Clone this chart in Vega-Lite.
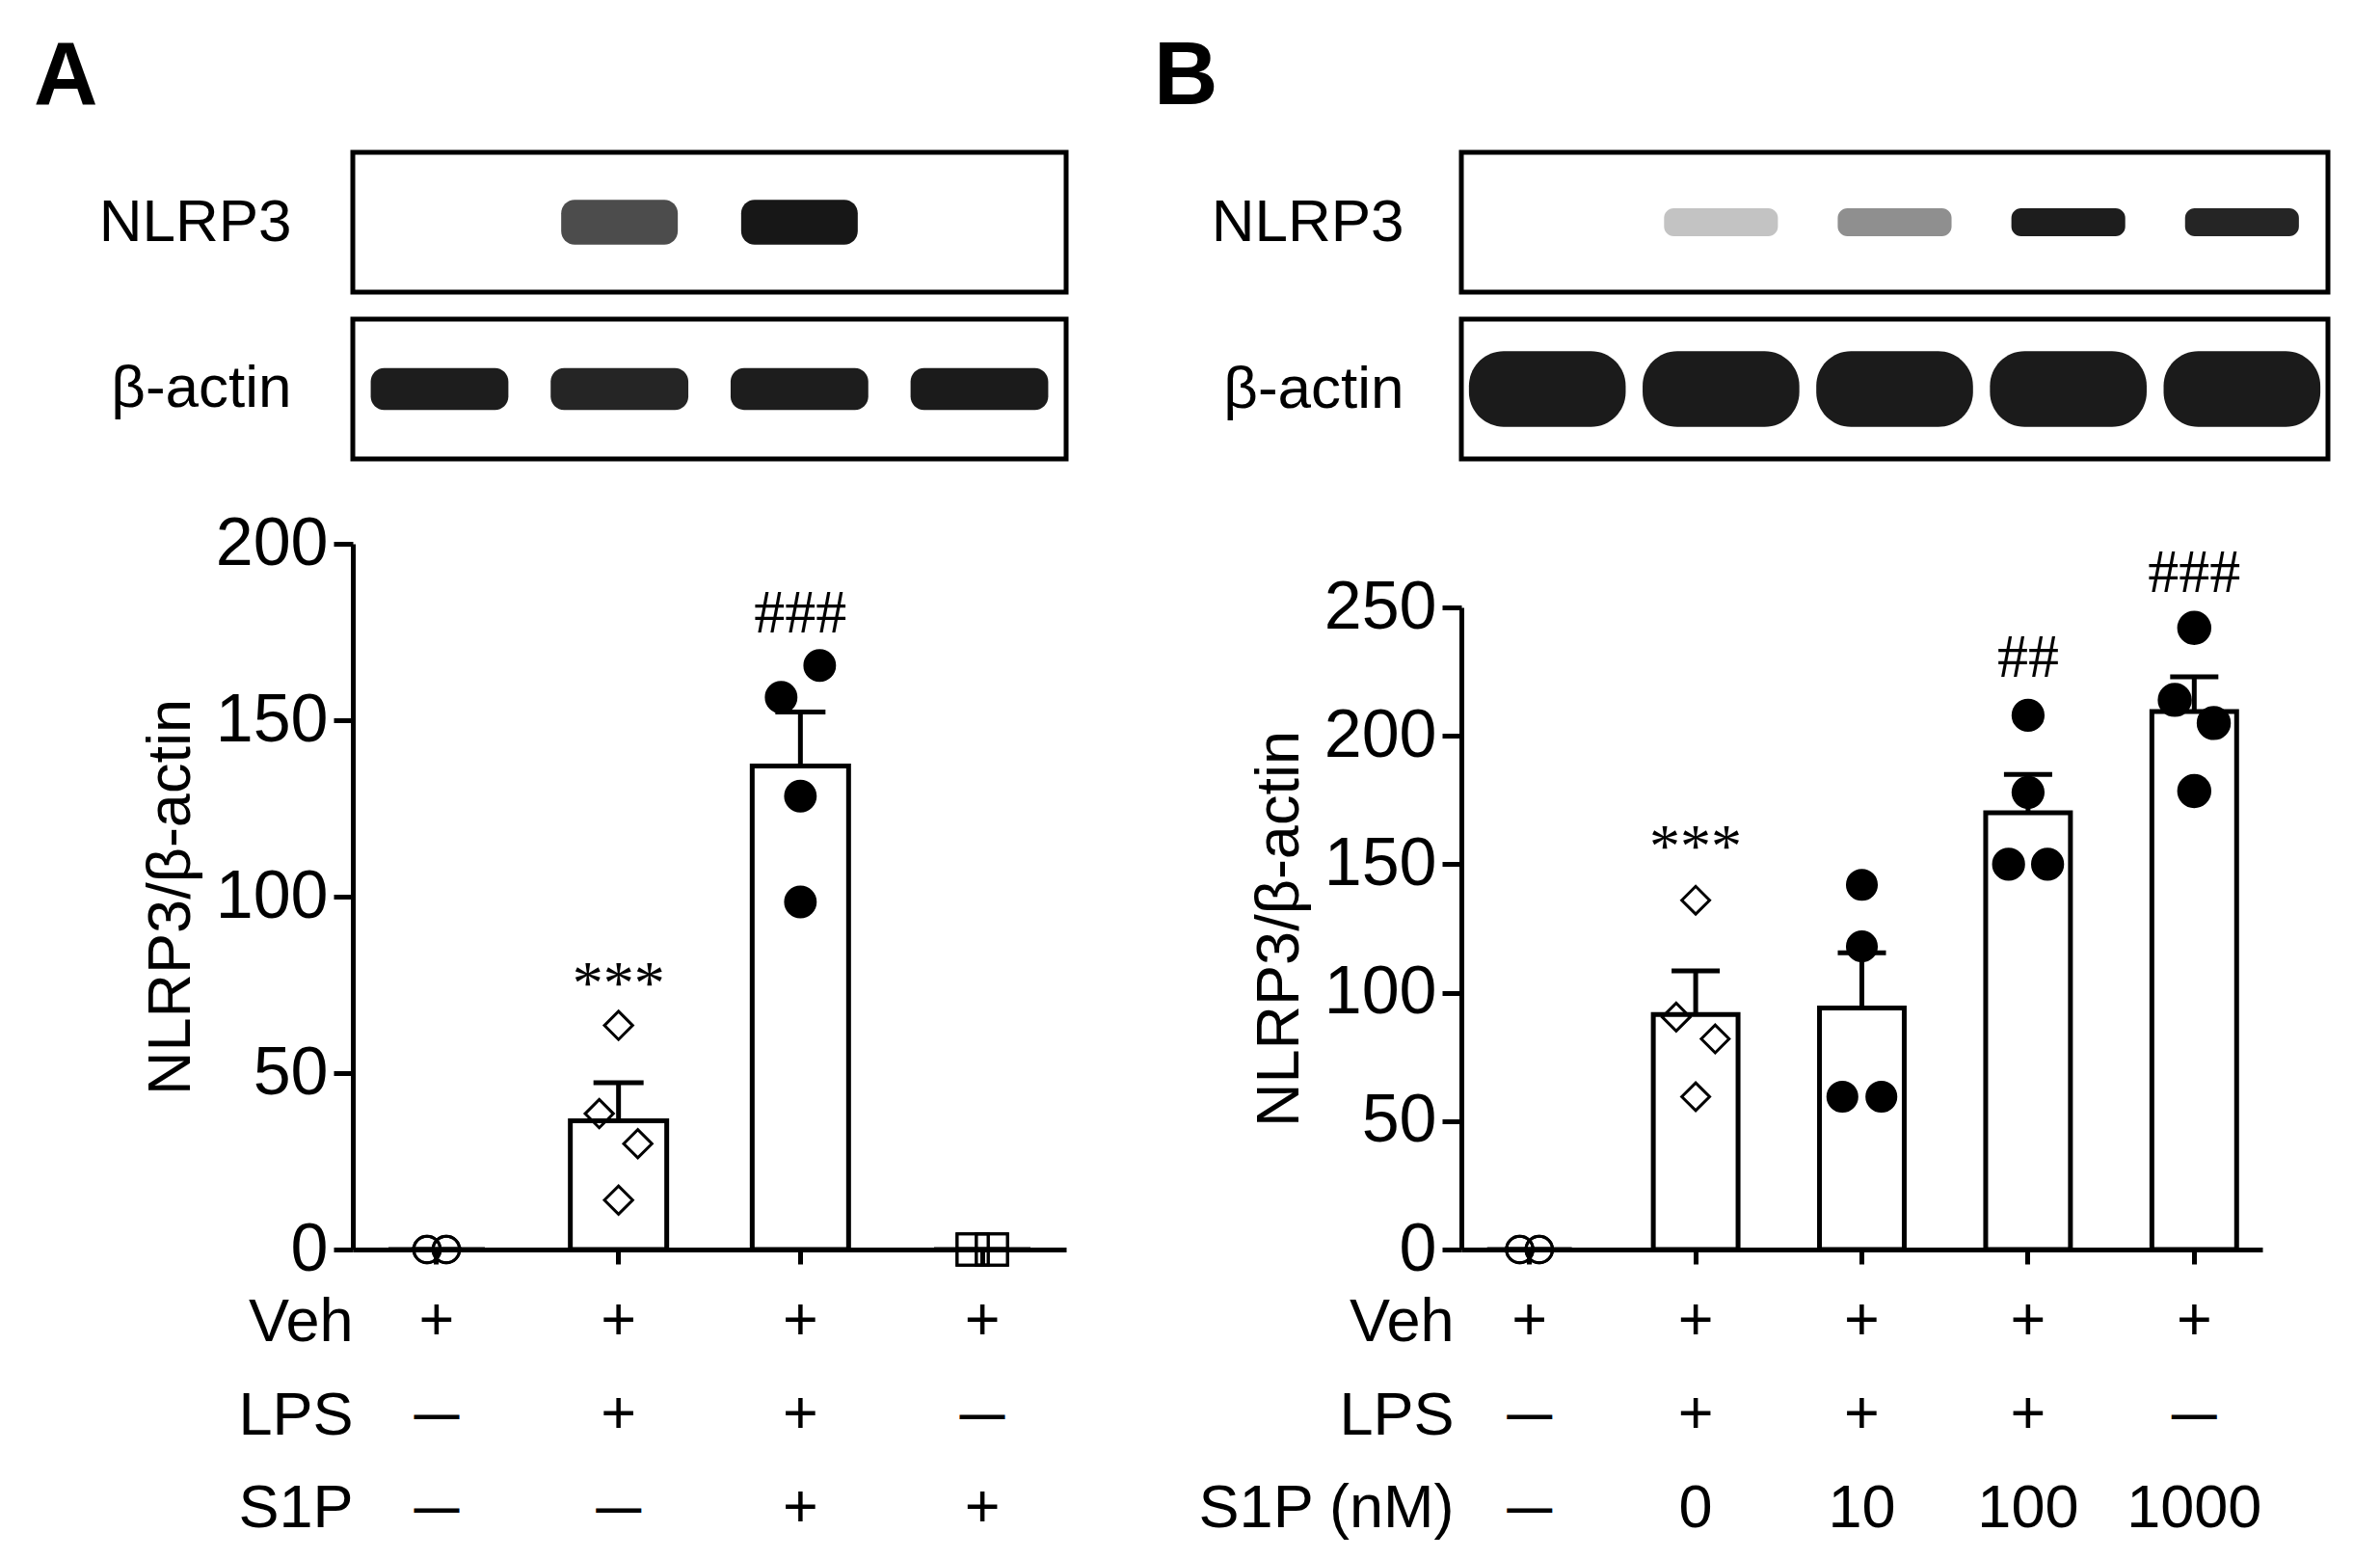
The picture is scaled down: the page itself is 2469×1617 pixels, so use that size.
{
  "$schema": "https://vega.github.io/schema/vega-lite/v6.json",
  "padding": {"left": 35, "top": 33, "right": 0, "bottom": 0},
  "background": "white",
  "datasets": {
    "blotA": [
      {"lane": 1, "protein": "NLRP3", "density": 0},
      {"lane": 2, "protein": "NLRP3", "density": 0.7},
      {"lane": 3, "protein": "NLRP3", "density": 0.95},
      {"lane": 4, "protein": "NLRP3", "density": 0},
      {"lane": 1, "protein": "β-actin", "density": 0.92},
      {"lane": 2, "protein": "β-actin", "density": 0.88},
      {"lane": 3, "protein": "β-actin", "density": 0.92},
      {"lane": 4, "protein": "β-actin", "density": 0.93}
    ],
    "blotB": [
      {"lane": 1, "protein": "NLRP3", "density": 0},
      {"lane": 2, "protein": "NLRP3", "density": 0.22},
      {"lane": 3, "protein": "NLRP3", "density": 0.42},
      {"lane": 4, "protein": "NLRP3", "density": 0.92},
      {"lane": 5, "protein": "NLRP3", "density": 0.88},
      {"lane": 1, "protein": "β-actin", "density": 0.93},
      {"lane": 2, "protein": "β-actin", "density": 0.93},
      {"lane": 3, "protein": "β-actin", "density": 0.93},
      {"lane": 4, "protein": "β-actin", "density": 0.93},
      {"lane": 5, "protein": "β-actin", "density": 0.93}
    ],
    "barsA": [
      {"grp": "Veh", "mean": 0, "upper": 0},
      {"grp": "LPS", "mean": 36.5, "upper": 47.3},
      {"grp": "LPS+S1P", "mean": 137, "upper": 152.3},
      {"grp": "S1P", "mean": 0, "upper": 0}
    ],
    "ptsA": [
      {"grp": "Veh", "v": 0, "pos": "l"},
      {"grp": "Veh", "v": 0, "pos": "l"},
      {"grp": "Veh", "v": 0, "pos": "r"},
      {"grp": "Veh", "v": 0, "pos": "r"},
      {"grp": "LPS", "v": 63.5, "pos": "C"},
      {"grp": "LPS", "v": 38.5, "pos": "L"},
      {"grp": "LPS", "v": 30, "pos": "R"},
      {"grp": "LPS", "v": 14, "pos": "C"},
      {"grp": "LPS+S1P", "v": 165.5, "pos": "R"},
      {"grp": "LPS+S1P", "v": 156.5, "pos": "L"},
      {"grp": "LPS+S1P", "v": 128.5, "pos": "C"},
      {"grp": "LPS+S1P", "v": 98.5, "pos": "C"},
      {"grp": "S1P", "v": 0, "pos": "l"},
      {"grp": "S1P", "v": 0, "pos": "l"},
      {"grp": "S1P", "v": 0, "pos": "r"},
      {"grp": "S1P", "v": 0, "pos": "r"}
    ],
    "sigA": [
      {"grp": "LPS", "y": 75, "label": "***"},
      {"grp": "LPS+S1P", "y": 180, "label": "###"}
    ],
    "tabA": [
      {"grp": "Veh", "row": "Veh", "txt": "+"},
      {"grp": "LPS", "row": "Veh", "txt": "+"},
      {"grp": "LPS+S1P", "row": "Veh", "txt": "+"},
      {"grp": "S1P", "row": "Veh", "txt": "+"},
      {"grp": "Veh", "row": "LPS", "txt": "—"},
      {"grp": "LPS", "row": "LPS", "txt": "+"},
      {"grp": "LPS+S1P", "row": "LPS", "txt": "+"},
      {"grp": "S1P", "row": "LPS", "txt": "—"},
      {"grp": "Veh", "row": "S1P", "txt": "—"},
      {"grp": "LPS", "row": "S1P", "txt": "—"},
      {"grp": "LPS+S1P", "row": "S1P", "txt": "+"},
      {"grp": "S1P", "row": "S1P", "txt": "+"}
    ],
    "barsB": [
      {"grp": "Veh", "mean": 0, "upper": 0},
      {"grp": "LPS", "mean": 91.5, "upper": 108.5},
      {"grp": "LPS+S1P 10", "mean": 94, "upper": 115.5},
      {"grp": "LPS+S1P 100", "mean": 170, "upper": 185},
      {"grp": "S1P 1000", "mean": 209.5, "upper": 223}
    ],
    "ptsB": [
      {"grp": "Veh", "v": 0, "pos": "l"},
      {"grp": "Veh", "v": 0, "pos": "l"},
      {"grp": "Veh", "v": 0, "pos": "r"},
      {"grp": "Veh", "v": 0, "pos": "r"},
      {"grp": "LPS", "v": 136, "pos": "C"},
      {"grp": "LPS", "v": 90.5, "pos": "L"},
      {"grp": "LPS", "v": 82, "pos": "R"},
      {"grp": "LPS", "v": 59.5, "pos": "C"},
      {"grp": "LPS+S1P 10", "v": 142, "pos": "C"},
      {"grp": "LPS+S1P 10", "v": 118, "pos": "C"},
      {"grp": "LPS+S1P 10", "v": 59.5, "pos": "L"},
      {"grp": "LPS+S1P 10", "v": 59.5, "pos": "R"},
      {"grp": "LPS+S1P 100", "v": 208, "pos": "C"},
      {"grp": "LPS+S1P 100", "v": 178, "pos": "C"},
      {"grp": "LPS+S1P 100", "v": 150, "pos": "L"},
      {"grp": "LPS+S1P 100", "v": 150, "pos": "R"},
      {"grp": "S1P 1000", "v": 242, "pos": "C"},
      {"grp": "S1P 1000", "v": 214, "pos": "L"},
      {"grp": "S1P 1000", "v": 205, "pos": "R"},
      {"grp": "S1P 1000", "v": 178.5, "pos": "C"}
    ],
    "sigB": [
      {"grp": "LPS", "y": 156, "label": "***"},
      {"grp": "LPS+S1P 100", "y": 230, "label": "##"},
      {"grp": "S1P 1000", "y": 263, "label": "###"}
    ],
    "tabB": [
      {"grp": "Veh", "row": "Veh", "txt": "+"},
      {"grp": "LPS", "row": "Veh", "txt": "+"},
      {"grp": "LPS+S1P 10", "row": "Veh", "txt": "+"},
      {"grp": "LPS+S1P 100", "row": "Veh", "txt": "+"},
      {"grp": "S1P 1000", "row": "Veh", "txt": "+"},
      {"grp": "Veh", "row": "LPS", "txt": "—"},
      {"grp": "LPS", "row": "LPS", "txt": "+"},
      {"grp": "LPS+S1P 10", "row": "LPS", "txt": "+"},
      {"grp": "LPS+S1P 100", "row": "LPS", "txt": "+"},
      {"grp": "S1P 1000", "row": "LPS", "txt": "—"},
      {"grp": "Veh", "row": "S1P (nM)", "txt": "—"},
      {"grp": "LPS", "row": "S1P (nM)", "txt": "0"},
      {"grp": "LPS+S1P 10", "row": "S1P (nM)", "txt": "10"},
      {"grp": "LPS+S1P 100", "row": "S1P (nM)", "txt": "100"},
      {"grp": "S1P 1000", "row": "S1P (nM)", "txt": "1000"}
    ]
  },
  "spacing": 88,
  "resolve": {"scale": {"x": "independent", "y": "independent", "fill": "independent", "shape": "independent", "size": "independent", "color": "independent"}},
  "hconcat": [
    {
      "spacing": 27,
      "bounds": "flush",
      "resolve": {"scale": {"x": "independent", "y": "independent", "fill": "independent", "shape": "independent", "size": "independent", "color": "independent"}},
      "vconcat": [
        {
          "width": 740,
          "height": 379,
          "title": {"text": "A", "anchor": "start", "frame": "group", "fontSize": 92, "fontWeight": "bold", "font": "Liberation Sans", "dx": -331, "offset": -44, "baseline": "alphabetic", "color": "black"},
          "data": {"name": "blotA"},
          "encoding": {
            "y": {"field": "protein", "type": "nominal", "sort": ["NLRP3", "β-actin"], "scale": {"domain": ["NLRP3", "β-actin"], "paddingInner": 0.1618, "paddingOuter": 0.1763, "align": 0}, "axis": {"title": null, "domain": false, "ticks": false, "labelFontSize": 62, "labelPadding": 64, "labelLimit": 600, "labelColor": "black", "labelFont": "Liberation Sans"}}
          },
          "layer": [
            {"transform": [{"filter": "datum.lane == 1"}], "mark": {"type": "rect", "fill": "white", "stroke": "black", "strokeWidth": 5}},
            {"transform": [{"filter": "datum.protein == 'NLRP3'"}], "mark": {"type": "rect", "width": {"band": 0.72}, "height": {"band": 0.32}, "cornerRadius": 14},
              "encoding": {"x": {"field": "lane", "type": "ordinal", "scale": {"paddingInner": 0.1, "paddingOuter": 0.032}, "axis": null}, "fill": {"field": "density", "type": "quantitative", "scale": {"domain": [0, 1], "range": ["#ffffff", "#0b0b0b"]}, "legend": null}}},
            {"transform": [{"filter": "datum.protein == 'β-actin'"}], "mark": {"type": "rect", "width": {"band": 0.85}, "height": {"band": 0.3}, "cornerRadius": 14},
              "encoding": {"x": {"field": "lane", "type": "ordinal", "scale": {"paddingInner": 0.1, "paddingOuter": 0.032}, "axis": null}, "fill": {"field": "density", "type": "quantitative", "scale": {"domain": [0, 1], "range": ["#ffffff", "#0b0b0b"]}, "legend": null}}}
          ]
        },
        {
          "width": 740,
          "height": 732,
          "encoding": {
            "x": {"field": "grp", "type": "nominal", "sort": null, "scale": {"type": "band", "domain": ["Veh", "LPS", "LPS+S1P", "S1P"], "paddingInner": 0.47, "paddingOuter": 0.196}, "axis": {"title": null, "labels": false, "tickSize": 15, "tickWidth": 5, "tickColor": "black", "domainWidth": 5, "domainColor": "black", "grid": false}}
          },
          "layer": [
            {"data": {"name": "barsA"}, "mark": {"type": "bar", "fill": "white", "stroke": "black", "strokeWidth": 5},
              "encoding": {"y": {"field": "mean", "type": "quantitative", "scale": {"domain": [0, 200]}, "axis": {"values": [0, 50, 100, 150, 200], "title": "NLRP3/β-actin", "titleFontSize": 63, "titleFontWeight": "normal", "titleFont": "Liberation Sans", "titleColor": "black", "titlePadding": 14, "labelFontSize": 70, "labelFont": "Liberation Sans", "labelColor": "black", "labelPadding": 6, "tickSize": 20, "tickWidth": 5, "tickColor": "black", "domainWidth": 5, "domainColor": "black", "grid": false}}}},
            {"data": {"name": "barsA"}, "mark": {"type": "rule", "strokeWidth": 5, "color": "black"},
              "encoding": {"y": {"field": "mean", "type": "quantitative", "scale": {"domain": [0, 200]}}, "y2": {"field": "upper"}}},
            {"data": {"name": "barsA"}, "mark": {"type": "tick", "size": 52, "thickness": 5, "color": "black", "opacity": 1},
              "encoding": {"y": {"field": "upper", "type": "quantitative", "scale": {"domain": [0, 200]}}}},
            {"data": {"name": "ptsA"}, "transform": [{"filter": "datum.pos == 'L'"}], "mark": {"type": "point", "filled": true, "strokeWidth": 3, "opacity": 1},
              "encoding": {"x": {"field": "grp", "type": "nominal", "bandPosition": 0.3}, "y": {"field": "v", "type": "quantitative", "scale": {"domain": [0, 200]}},
                "shape": {"field": "grp", "type": "nominal", "scale": {"domain": ["Veh", "LPS", "LPS+S1P", "S1P"], "range": ["circle", "diamond", "circle", "square"]}, "legend": null},
                "fill": {"field": "grp", "type": "nominal", "scale": {"domain": ["Veh", "LPS", "LPS+S1P", "S1P"], "range": ["transparent", "transparent", "black", "transparent"]}, "legend": null},
                "size": {"field": "grp", "type": "nominal", "scale": {"domain": ["Veh", "LPS", "LPS+S1P", "S1P"], "range": [760, 1050, 850, 760]}, "legend": null},
                "stroke": {"value": "black"}}},
            {"data": {"name": "ptsA"}, "transform": [{"filter": "datum.pos == 'l'"}], "mark": {"type": "point", "filled": true, "strokeWidth": 3, "opacity": 1},
              "encoding": {"x": {"field": "grp", "type": "nominal", "bandPosition": 0.4}, "y": {"field": "v", "type": "quantitative", "scale": {"domain": [0, 200]}},
                "shape": {"field": "grp", "type": "nominal", "legend": null},
                "fill": {"field": "grp", "type": "nominal", "legend": null},
                "size": {"field": "grp", "type": "nominal", "legend": null},
                "stroke": {"value": "black"}}},
            {"data": {"name": "ptsA"}, "transform": [{"filter": "datum.pos == 'C'"}], "mark": {"type": "point", "filled": true, "strokeWidth": 3, "opacity": 1},
              "encoding": {"x": {"field": "grp", "type": "nominal", "bandPosition": 0.5}, "y": {"field": "v", "type": "quantitative", "scale": {"domain": [0, 200]}},
                "shape": {"field": "grp", "type": "nominal", "legend": null},
                "fill": {"field": "grp", "type": "nominal", "legend": null},
                "size": {"field": "grp", "type": "nominal", "legend": null},
                "stroke": {"value": "black"}}},
            {"data": {"name": "ptsA"}, "transform": [{"filter": "datum.pos == 'r'"}], "mark": {"type": "point", "filled": true, "strokeWidth": 3, "opacity": 1},
              "encoding": {"x": {"field": "grp", "type": "nominal", "bandPosition": 0.6}, "y": {"field": "v", "type": "quantitative", "scale": {"domain": [0, 200]}},
                "shape": {"field": "grp", "type": "nominal", "legend": null},
                "fill": {"field": "grp", "type": "nominal", "legend": null},
                "size": {"field": "grp", "type": "nominal", "legend": null},
                "stroke": {"value": "black"}}},
            {"data": {"name": "ptsA"}, "transform": [{"filter": "datum.pos == 'R'"}], "mark": {"type": "point", "filled": true, "strokeWidth": 3, "opacity": 1},
              "encoding": {"x": {"field": "grp", "type": "nominal", "bandPosition": 0.7}, "y": {"field": "v", "type": "quantitative", "scale": {"domain": [0, 200]}},
                "shape": {"field": "grp", "type": "nominal", "legend": null},
                "fill": {"field": "grp", "type": "nominal", "legend": null},
                "size": {"field": "grp", "type": "nominal", "legend": null},
                "stroke": {"value": "black"}}},
            {"data": {"name": "sigA"}, "mark": {"type": "text", "font": "Liberation Serif", "fontSize": 64, "baseline": "middle", "color": "black"},
              "encoding": {"y": {"field": "y", "type": "quantitative", "scale": {"domain": [0, 200]}}, "text": {"field": "label"}}}
          ]
        },
        {
          "width": 740,
          "height": 290,
          "data": {"name": "tabA"},
          "encoding": {
            "x": {"field": "grp", "type": "nominal", "sort": null, "scale": {"type": "band", "domain": ["Veh", "LPS", "LPS+S1P", "S1P"], "paddingInner": 0.47, "paddingOuter": 0.196}, "axis": null},
            "y": {"field": "row", "type": "nominal", "sort": null, "scale": {"domain": ["Veh", "LPS", "S1P"], "paddingInner": 0, "paddingOuter": 0}, "axis": {"title": null, "domain": false, "ticks": false, "labelFontSize": 63, "labelFont": "Liberation Sans", "labelColor": "black", "labelPadding": 0, "labelLimit": 600}},
            "text": {"field": "txt"}
          },
          "layer": [
            {"transform": [{"filter": "datum.txt != '—'"}], "mark": {"type": "text", "fontSize": 63, "baseline": "middle", "font": "Liberation Sans", "color": "black"}},
            {"transform": [{"filter": "datum.txt == '—'"}], "mark": {"type": "text", "fontSize": 47, "baseline": "middle", "font": "Liberation Sans", "color": "black", "fontWeight": "bold"}}
          ]
        }
      ]
    },
    {
      "spacing": 27,
      "bounds": "flush",
      "resolve": {"scale": {"x": "independent", "y": "independent", "fill": "independent", "shape": "independent", "size": "independent", "color": "independent"}},
      "vconcat": [
        {
          "width": 899,
          "height": 445,
          "title": {"text": "B", "anchor": "start", "frame": "group", "fontSize": 92, "fontWeight": "bold", "font": "Liberation Sans", "dx": -319, "offset": -44, "baseline": "alphabetic", "color": "black"},
          "data": {"name": "blotB"},
          "encoding": {
            "y": {"field": "protein", "type": "nominal", "sort": ["NLRP3", "β-actin"], "scale": {"domain": ["NLRP3", "β-actin"], "paddingInner": 0.1618, "paddingOuter": 0.367, "align": 0}, "axis": {"title": null, "domain": false, "ticks": false, "labelFontSize": 62, "labelPadding": 60, "labelLimit": 600, "labelColor": "black", "labelFont": "Liberation Sans"}}
          },
          "layer": [
            {"transform": [{"filter": "datum.lane == 1"}], "mark": {"type": "rect", "fill": "white", "stroke": "black", "strokeWidth": 5}},
            {"transform": [{"filter": "datum.protein == 'NLRP3'"}], "mark": {"type": "rect", "width": {"band": 0.69}, "height": {"band": 0.2}, "cornerRadius": 10},
              "encoding": {"x": {"field": "lane", "type": "ordinal", "scale": {"paddingInner": 0.05, "paddingOuter": 0.02}, "axis": null}, "fill": {"field": "density", "type": "quantitative", "scale": {"domain": [0, 1], "range": ["#ffffff", "#0b0b0b"]}, "legend": null}}},
            {"transform": [{"filter": "datum.protein == 'β-actin'"}], "mark": {"type": "rect", "width": {"band": 0.95}, "height": {"band": 0.54}, "cornerRadius": 36},
              "encoding": {"x": {"field": "lane", "type": "ordinal", "scale": {"paddingInner": 0.05, "paddingOuter": 0.02}, "axis": null}, "fill": {"field": "density", "type": "quantitative", "scale": {"domain": [0, 1], "range": ["#ffffff", "#0b0b0b"]}, "legend": null}}}
          ]
        },
        {
          "width": 831,
          "height": 666,
          "encoding": {
            "x": {"field": "grp", "type": "nominal", "sort": null, "scale": {"type": "band", "domain": ["Veh", "LPS", "LPS+S1P 10", "LPS+S1P 100", "S1P 1000"], "paddingInner": 0.49, "paddingOuter": 0.155}, "axis": {"title": null, "labels": false, "tickSize": 15, "tickWidth": 5, "tickColor": "black", "domainWidth": 5, "domainColor": "black", "grid": false}}
          },
          "layer": [
            {"data": {"name": "barsB"}, "mark": {"type": "bar", "fill": "white", "stroke": "black", "strokeWidth": 5},
              "encoding": {"y": {"field": "mean", "type": "quantitative", "scale": {"domain": [0, 250]}, "axis": {"values": [0, 50, 100, 150, 200, 250], "title": "NLRP3/β-actin", "titleFontSize": 63, "titleFontWeight": "normal", "titleFont": "Liberation Sans", "titleColor": "black", "titlePadding": 14, "labelFontSize": 70, "labelFont": "Liberation Sans", "labelColor": "black", "labelPadding": 6, "tickSize": 20, "tickWidth": 5, "tickColor": "black", "domainWidth": 5, "domainColor": "black", "grid": false}}}},
            {"data": {"name": "barsB"}, "mark": {"type": "rule", "strokeWidth": 5, "color": "black"},
              "encoding": {"y": {"field": "mean", "type": "quantitative", "scale": {"domain": [0, 250]}}, "y2": {"field": "upper"}}},
            {"data": {"name": "barsB"}, "mark": {"type": "tick", "size": 50, "thickness": 5, "color": "black", "opacity": 1},
              "encoding": {"y": {"field": "upper", "type": "quantitative", "scale": {"domain": [0, 250]}}}},
            {"data": {"name": "ptsB"}, "transform": [{"filter": "datum.pos == 'L'"}], "mark": {"type": "point", "filled": true, "strokeWidth": 3, "opacity": 1},
              "encoding": {"x": {"field": "grp", "type": "nominal", "bandPosition": 0.27}, "y": {"field": "v", "type": "quantitative", "scale": {"domain": [0, 250]}},
                "shape": {"field": "grp", "type": "nominal", "scale": {"domain": ["Veh", "LPS", "LPS+S1P 10", "LPS+S1P 100", "S1P 1000"], "range": ["circle", "diamond", "circle", "circle", "circle"]}, "legend": null},
                "fill": {"field": "grp", "type": "nominal", "scale": {"domain": ["Veh", "LPS", "LPS+S1P 10", "LPS+S1P 100", "S1P 1000"], "range": ["transparent", "transparent", "black", "black", "black"]}, "legend": null},
                "size": {"field": "grp", "type": "nominal", "scale": {"domain": ["Veh", "LPS", "LPS+S1P 10", "LPS+S1P 100", "S1P 1000"], "range": [760, 1050, 850, 850, 850]}, "legend": null},
                "stroke": {"value": "black"}}},
            {"data": {"name": "ptsB"}, "transform": [{"filter": "datum.pos == 'l'"}], "mark": {"type": "point", "filled": true, "strokeWidth": 3, "opacity": 1},
              "encoding": {"x": {"field": "grp", "type": "nominal", "bandPosition": 0.385}, "y": {"field": "v", "type": "quantitative", "scale": {"domain": [0, 250]}},
                "shape": {"field": "grp", "type": "nominal", "legend": null},
                "fill": {"field": "grp", "type": "nominal", "legend": null},
                "size": {"field": "grp", "type": "nominal", "legend": null},
                "stroke": {"value": "black"}}},
            {"data": {"name": "ptsB"}, "transform": [{"filter": "datum.pos == 'C'"}], "mark": {"type": "point", "filled": true, "strokeWidth": 3, "opacity": 1},
              "encoding": {"x": {"field": "grp", "type": "nominal", "bandPosition": 0.5}, "y": {"field": "v", "type": "quantitative", "scale": {"domain": [0, 250]}},
                "shape": {"field": "grp", "type": "nominal", "legend": null},
                "fill": {"field": "grp", "type": "nominal", "legend": null},
                "size": {"field": "grp", "type": "nominal", "legend": null},
                "stroke": {"value": "black"}}},
            {"data": {"name": "ptsB"}, "transform": [{"filter": "datum.pos == 'r'"}], "mark": {"type": "point", "filled": true, "strokeWidth": 3, "opacity": 1},
              "encoding": {"x": {"field": "grp", "type": "nominal", "bandPosition": 0.615}, "y": {"field": "v", "type": "quantitative", "scale": {"domain": [0, 250]}},
                "shape": {"field": "grp", "type": "nominal", "legend": null},
                "fill": {"field": "grp", "type": "nominal", "legend": null},
                "size": {"field": "grp", "type": "nominal", "legend": null},
                "stroke": {"value": "black"}}},
            {"data": {"name": "ptsB"}, "transform": [{"filter": "datum.pos == 'R'"}], "mark": {"type": "point", "filled": true, "strokeWidth": 3, "opacity": 1},
              "encoding": {"x": {"field": "grp", "type": "nominal", "bandPosition": 0.73}, "y": {"field": "v", "type": "quantitative", "scale": {"domain": [0, 250]}},
                "shape": {"field": "grp", "type": "nominal", "legend": null},
                "fill": {"field": "grp", "type": "nominal", "legend": null},
                "size": {"field": "grp", "type": "nominal", "legend": null},
                "stroke": {"value": "black"}}},
            {"data": {"name": "sigB"}, "mark": {"type": "text", "font": "Liberation Serif", "fontSize": 64, "baseline": "middle", "color": "black"},
              "encoding": {"y": {"field": "y", "type": "quantitative", "scale": {"domain": [0, 250]}}, "text": {"field": "label"}}}
          ]
        },
        {
          "width": 831,
          "height": 290,
          "data": {"name": "tabB"},
          "encoding": {
            "x": {"field": "grp", "type": "nominal", "sort": null, "scale": {"type": "band", "domain": ["Veh", "LPS", "LPS+S1P 10", "LPS+S1P 100", "S1P 1000"], "paddingInner": 0.49, "paddingOuter": 0.155}, "axis": null},
            "y": {"field": "row", "type": "nominal", "sort": null, "scale": {"domain": ["Veh", "LPS", "S1P (nM)"], "paddingInner": 0, "paddingOuter": 0}, "axis": {"title": null, "domain": false, "ticks": false, "labelFontSize": 63, "labelFont": "Liberation Sans", "labelColor": "black", "labelPadding": 8, "labelLimit": 600}},
            "text": {"field": "txt"}
          },
          "layer": [
            {"transform": [{"filter": "datum.txt != '—'"}], "mark": {"type": "text", "fontSize": 63, "baseline": "middle", "font": "Liberation Sans", "color": "black"}},
            {"transform": [{"filter": "datum.txt == '—'"}], "mark": {"type": "text", "fontSize": 47, "baseline": "middle", "font": "Liberation Sans", "color": "black", "fontWeight": "bold"}}
          ]
        }
      ]
    }
  ],
  "config": {
    "view": {"stroke": null},
    "font": "Liberation Sans",
    "axis": {"grid": false}
  }
}
